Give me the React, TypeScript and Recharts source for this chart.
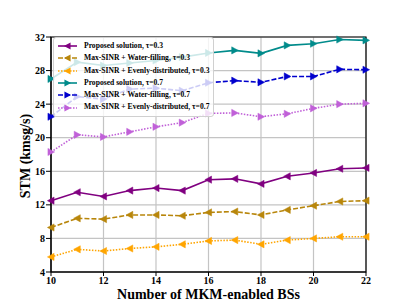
import { LineChart, Line, XAxis, YAxis, CartesianGrid, Legend, ReferenceArea } from "recharts"

// number of MKM-enabled BSs
const bsCount = [10, 11, 12, 13, 14, 15, 16, 17, 18, 19, 20, 21, 22]

// STM (kmsg/s) per scheme
const proposed03 = [12.5, 13.5, 13.0, 13.7, 14.0, 13.7, 15.0, 15.1, 14.5, 15.4, 15.8, 16.3, 16.4]
const waterFill03 = [9.3, 10.4, 10.3, 10.8, 10.8, 10.7, 11.1, 11.2, 10.8, 11.4, 11.9, 12.4, 12.5]
const evenly03 = [5.8, 6.7, 6.5, 6.8, 7.0, 7.3, 7.7, 7.8, 7.3, 7.8, 8.0, 8.2, 8.2]
const proposed07 = [27.0, 29.0, 28.6, 28.9, 29.2, 29.6, 30.1, 30.4, 30.05, 31.0, 31.2, 31.7, 31.6]
const waterFill07 = [22.5, 24.9, 24.6, 25.8, 25.9, 25.6, 26.55, 26.8, 26.6, 27.3, 27.3, 28.15, 28.1]
const evenly07 = [18.3, 20.35, 20.1, 20.7, 21.3, 21.8, 22.9, 22.95, 22.5, 22.85, 23.5, 24.0, 24.1]

const xTicks = [10, 12, 14, 16, 18, 20, 22]
const yTicks = [4, 8, 12, 16, 20, 24, 28, 32]

const series = [
  { key: "p03", name: "Proposed solution, \u03c4=0.3", values: proposed03, color: "#800080", dash: undefined, dir: "left" },
  { key: "w03", name: "Max-SINR + Water-filling, \u03c4=0.3", values: waterFill03, color: "#b8860b", dash: "5 2", dir: "left" },
  { key: "e03", name: "Max-SINR + Evenly-distributed, \u03c4=0.3", values: evenly03, color: "#ffa500", dash: "1.5 1.5", dir: "left" },
  { key: "p07", name: "Proposed solution, \u03c4=0.7", values: proposed07, color: "#008b8b", dash: undefined, dir: "right" },
  { key: "w07", name: "Max-SINR + Water-filling, \u03c4=0.7", values: waterFill07, color: "#0000cd", dash: "5 2", dir: "right" },
  { key: "e07", name: "Max-SINR + Evenly-distributed, \u03c4=0.7", values: evenly07, color: "#c060d8", dash: "1.5 1.5", dir: "right" },
]

const data = bsCount.map((n, i) => {
  const row: any = { n }
  series.forEach((s) => (row[s.key] = s.values[i]))
  return row
})

const font = "'Liberation Serif', 'Times New Roman', serif"

function triPoints(cx: number, cy: number, dir: string, s: number) {
  return dir === "left"
    ? `${cx - s},${cy} ${cx + s * 0.85},${cy - s} ${cx + s * 0.85},${cy + s}`
    : `${cx + s},${cy} ${cx - s * 0.85},${cy - s} ${cx - s * 0.85},${cy + s}`
}

const makeDot = (dir: string, color: string) => (props: any) => {
  const { cx, cy, index } = props
  if (cx == null || cy == null) return <g key={index} />
  return <polygon key={index} points={triPoints(cx, cy, dir, 3.6)} fill={color} stroke={color} strokeWidth={0.5} />
}

function LegendBox() {
  return (
    <div
      style={{
        background: "rgba(255,255,255,0.8)",
        border: "1px solid #d0d0d0",
        borderRadius: 3,
        padding: "2px 4px 2px 3px",
        fontFamily: font,
        fontWeight: "bold",
        fontSize: 7.6,
        lineHeight: "12.3px",
        color: "#000",
        whiteSpace: "nowrap",
      }}
    >
      {series.map((s) => (
        <div key={s.key} style={{ display: "flex", alignItems: "center" }}>
          <svg width={22} height={10} style={{ marginRight: 5 }}>
            <line x1={1} y1={5} x2={20} y2={5} stroke={s.color} strokeWidth={1.6} strokeDasharray={s.dash} />
            <polygon points={triPoints(10.5, 5, s.dir, 3.6)} fill={s.color} />
          </svg>
          <span>{s.name}</span>
        </div>
      ))}
    </div>
  )
}

const tickStyle = { fontFamily: font, fontWeight: "bold", fontSize: 10, fill: "#000" }
const labelStyle = { fontFamily: font, fontWeight: "bold", fontSize: 14, fill: "#000" }

export default function App() {
  return (
    <div style={{ position: "absolute", left: 0, top: 0, width: 407, height: 305, background: "#fff" }}>
      <LineChart width={407} height={305} data={data} margin={{ top: 37, right: 41, bottom: 0, left: 0 }}>
        <CartesianGrid stroke="#c4c4c4" strokeWidth={1.2} />
        <XAxis
          dataKey="n"
          type="number"
          domain={[10, 22]}
          ticks={xTicks}
          height={33}
          tick={tickStyle}
          tickSize={4}
          tickMargin={1}
          axisLine={{ stroke: "#000" }}
          tickLine={{ stroke: "#000" }}
          label={{
            value: "Number of MKM-enabled BSs",
            content: () => (
              <text x={208.5} y={294} textAnchor="middle" dominantBaseline="central" style={labelStyle}>
                Number of MKM-enabled BSs
              </text>
            ),
          }}
        />
        <YAxis
          type="number"
          domain={[4, 32]}
          ticks={yTicks}
          width={51}
          tick={tickStyle}
          tickSize={5}
          tickMargin={1}
          axisLine={{ stroke: "#000" }}
          tickLine={{ stroke: "#000" }}
          label={{
            value: "STM (kmsg/s)",
            content: () => (
              <text
                x={25}
                y={156}
                transform="rotate(-90, 25, 156)"
                textAnchor="middle"
                dominantBaseline="central"
                style={labelStyle}
              >
                STM (kmsg/s)
              </text>
            ),
          }}
        />
        <ReferenceArea x1={10} x2={22} y1={4} y2={32} fill="none" stroke="#000" strokeWidth={1.2} />
        {series.map((s) => (
          <Line
            key={s.key}
            dataKey={s.key}
            name={s.name}
            type="linear"
            stroke={s.color}
            strokeWidth={1.6}
            strokeDasharray={s.dash}
            dot={makeDot(s.dir, s.color)}
            activeDot={false}
            isAnimationActive={false}
          />
        ))}
        <Legend
          layout="vertical"
          align="center"
          verticalAlign="middle"
          content={() => <LegendBox />}
          wrapperStyle={{ position: "absolute", left: 53, top: 37, width: "auto", height: "auto" }}
        />
      </LineChart>
    </div>
  )
}
